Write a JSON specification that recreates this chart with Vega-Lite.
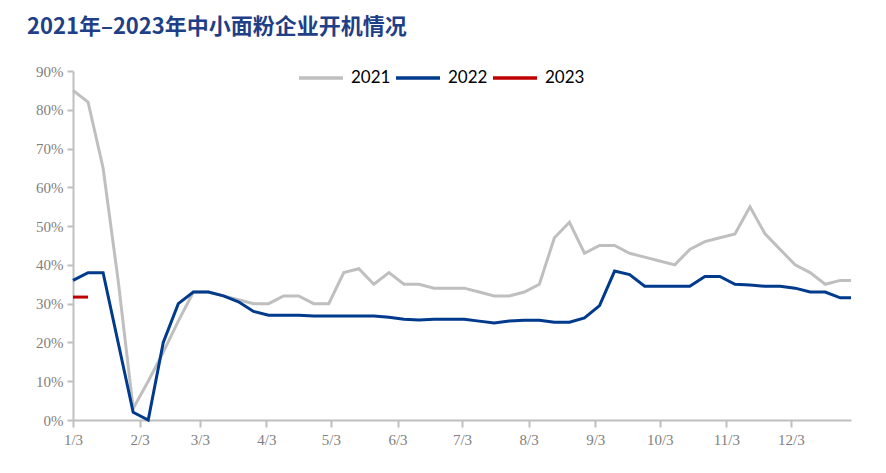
{
  "$schema": "https://vega.github.io/schema/vega-lite/v6.json",
  "width": 778,
  "height": 349,
  "autosize": {"type": "none"},
  "padding": {"left": 73, "top": 71, "right": 35, "bottom": 53},
  "background": "white",
  "title": {
    "text": "2021年–2023年中小面粉企业开机情况",
    "anchor": "start",
    "frame": "group",
    "dx": -46,
    "offset": 15,
    "font": "Noto Sans CJK SC",
    "fontSize": 22,
    "fontWeight": "bold",
    "color": "#1F3F86"
  },
  "config": {
    "view": {"stroke": null},
    "axis": {
      "domainColor": "#BFBFBF",
      "domainWidth": 2,
      "tickColor": "#BFBFBF",
      "tickWidth": 2,
      "grid": false,
      "labelFont": "Liberation Serif, DejaVu Serif, serif",
      "labelFontSize": 15,
      "labelColor": "#7F7F7F",
      "title": null
    }
  },
  "datasets": {
    "rates": [
      {"date": "2022-01-03", "year": "2021", "rate": 85},
      {"date": "2022-01-10", "year": "2021", "rate": 82},
      {"date": "2022-01-17", "year": "2021", "rate": 65},
      {"date": "2022-01-24", "year": "2021", "rate": 36},
      {"date": "2022-01-31", "year": "2021", "rate": 3},
      {"date": "2022-02-07", "year": "2021", "rate": 10},
      {"date": "2022-02-14", "year": "2021", "rate": 17.5},
      {"date": "2022-02-21", "year": "2021", "rate": 25.5},
      {"date": "2022-02-28", "year": "2021", "rate": 33},
      {"date": "2022-03-07", "year": "2021", "rate": 33},
      {"date": "2022-03-14", "year": "2021", "rate": 32},
      {"date": "2022-03-21", "year": "2021", "rate": 31},
      {"date": "2022-03-28", "year": "2021", "rate": 30},
      {"date": "2022-04-04", "year": "2021", "rate": 30},
      {"date": "2022-04-11", "year": "2021", "rate": 32},
      {"date": "2022-04-18", "year": "2021", "rate": 32},
      {"date": "2022-04-25", "year": "2021", "rate": 30},
      {"date": "2022-05-02", "year": "2021", "rate": 30},
      {"date": "2022-05-09", "year": "2021", "rate": 38},
      {"date": "2022-05-16", "year": "2021", "rate": 39},
      {"date": "2022-05-23", "year": "2021", "rate": 35},
      {"date": "2022-05-30", "year": "2021", "rate": 38},
      {"date": "2022-06-06", "year": "2021", "rate": 35},
      {"date": "2022-06-13", "year": "2021", "rate": 35},
      {"date": "2022-06-20", "year": "2021", "rate": 34},
      {"date": "2022-06-27", "year": "2021", "rate": 34},
      {"date": "2022-07-04", "year": "2021", "rate": 34},
      {"date": "2022-07-11", "year": "2021", "rate": 33},
      {"date": "2022-07-18", "year": "2021", "rate": 32},
      {"date": "2022-07-25", "year": "2021", "rate": 32},
      {"date": "2022-08-01", "year": "2021", "rate": 33},
      {"date": "2022-08-08", "year": "2021", "rate": 35},
      {"date": "2022-08-15", "year": "2021", "rate": 47},
      {"date": "2022-08-22", "year": "2021", "rate": 51},
      {"date": "2022-08-29", "year": "2021", "rate": 43},
      {"date": "2022-09-05", "year": "2021", "rate": 45},
      {"date": "2022-09-12", "year": "2021", "rate": 45},
      {"date": "2022-09-19", "year": "2021", "rate": 43},
      {"date": "2022-09-26", "year": "2021", "rate": 42},
      {"date": "2022-10-03", "year": "2021", "rate": 41},
      {"date": "2022-10-10", "year": "2021", "rate": 40},
      {"date": "2022-10-17", "year": "2021", "rate": 44},
      {"date": "2022-10-24", "year": "2021", "rate": 46},
      {"date": "2022-10-31", "year": "2021", "rate": 47},
      {"date": "2022-11-07", "year": "2021", "rate": 48},
      {"date": "2022-11-14", "year": "2021", "rate": 55},
      {"date": "2022-11-21", "year": "2021", "rate": 48},
      {"date": "2022-11-28", "year": "2021", "rate": 44},
      {"date": "2022-12-05", "year": "2021", "rate": 40},
      {"date": "2022-12-12", "year": "2021", "rate": 38},
      {"date": "2022-12-19", "year": "2021", "rate": 35},
      {"date": "2022-12-26", "year": "2021", "rate": 36},
      {"date": "2022-12-31", "year": "2021", "rate": 36},
      {"date": "2022-01-03", "year": "2022", "rate": 36},
      {"date": "2022-01-10", "year": "2022", "rate": 38},
      {"date": "2022-01-17", "year": "2022", "rate": 38},
      {"date": "2022-01-24", "year": "2022", "rate": 20},
      {"date": "2022-01-31", "year": "2022", "rate": 2},
      {"date": "2022-02-07", "year": "2022", "rate": 0},
      {"date": "2022-02-14", "year": "2022", "rate": 20},
      {"date": "2022-02-21", "year": "2022", "rate": 30},
      {"date": "2022-02-28", "year": "2022", "rate": 33},
      {"date": "2022-03-07", "year": "2022", "rate": 33},
      {"date": "2022-03-14", "year": "2022", "rate": 32},
      {"date": "2022-03-21", "year": "2022", "rate": 30.5},
      {"date": "2022-03-28", "year": "2022", "rate": 28},
      {"date": "2022-04-04", "year": "2022", "rate": 27},
      {"date": "2022-04-11", "year": "2022", "rate": 27},
      {"date": "2022-04-18", "year": "2022", "rate": 27},
      {"date": "2022-04-25", "year": "2022", "rate": 26.8},
      {"date": "2022-05-02", "year": "2022", "rate": 26.8},
      {"date": "2022-05-09", "year": "2022", "rate": 26.8},
      {"date": "2022-05-16", "year": "2022", "rate": 26.8},
      {"date": "2022-05-23", "year": "2022", "rate": 26.8},
      {"date": "2022-05-30", "year": "2022", "rate": 26.5},
      {"date": "2022-06-06", "year": "2022", "rate": 26},
      {"date": "2022-06-13", "year": "2022", "rate": 25.8},
      {"date": "2022-06-20", "year": "2022", "rate": 26},
      {"date": "2022-06-27", "year": "2022", "rate": 26},
      {"date": "2022-07-04", "year": "2022", "rate": 26},
      {"date": "2022-07-11", "year": "2022", "rate": 25.5},
      {"date": "2022-07-18", "year": "2022", "rate": 25},
      {"date": "2022-07-25", "year": "2022", "rate": 25.5},
      {"date": "2022-08-01", "year": "2022", "rate": 25.7},
      {"date": "2022-08-08", "year": "2022", "rate": 25.7},
      {"date": "2022-08-15", "year": "2022", "rate": 25.2},
      {"date": "2022-08-22", "year": "2022", "rate": 25.2},
      {"date": "2022-08-29", "year": "2022", "rate": 26.3},
      {"date": "2022-09-05", "year": "2022", "rate": 29.5},
      {"date": "2022-09-12", "year": "2022", "rate": 38.4},
      {"date": "2022-09-19", "year": "2022", "rate": 37.5},
      {"date": "2022-09-26", "year": "2022", "rate": 34.5},
      {"date": "2022-10-03", "year": "2022", "rate": 34.5},
      {"date": "2022-10-10", "year": "2022", "rate": 34.5},
      {"date": "2022-10-17", "year": "2022", "rate": 34.5},
      {"date": "2022-10-24", "year": "2022", "rate": 37},
      {"date": "2022-10-31", "year": "2022", "rate": 37},
      {"date": "2022-11-07", "year": "2022", "rate": 35},
      {"date": "2022-11-14", "year": "2022", "rate": 34.8},
      {"date": "2022-11-21", "year": "2022", "rate": 34.5},
      {"date": "2022-11-28", "year": "2022", "rate": 34.5},
      {"date": "2022-12-05", "year": "2022", "rate": 34},
      {"date": "2022-12-12", "year": "2022", "rate": 33},
      {"date": "2022-12-19", "year": "2022", "rate": 33},
      {"date": "2022-12-26", "year": "2022", "rate": 31.5},
      {"date": "2022-12-31", "year": "2022", "rate": 31.5},
      {"date": "2022-01-03", "year": "2023", "rate": 31.7},
      {"date": "2022-01-10", "year": "2023", "rate": 31.7}
    ]
  },
  "data": {"name": "rates"},
  "mark": {"type": "line", "strokeWidth": 3, "interpolate": "linear"},
  "encoding": {
    "x": {
      "field": "date",
      "type": "temporal",
      "scale": {
        "type": "utc",
        "domain": [
          {"year": 2022, "month": 1, "date": 3, "utc": true},
          {"year": 2022, "month": 12, "date": 31, "utc": true}
        ]
      },
      "axis": {
        "values": [
          {"year": 2022, "month": 1, "date": 3, "utc": true},
          {"year": 2022, "month": 2, "date": 3, "utc": true},
          {"year": 2022, "month": 3, "date": 3, "utc": true},
          {"year": 2022, "month": 4, "date": 3, "utc": true},
          {"year": 2022, "month": 5, "date": 3, "utc": true},
          {"year": 2022, "month": 6, "date": 3, "utc": true},
          {"year": 2022, "month": 7, "date": 3, "utc": true},
          {"year": 2022, "month": 8, "date": 3, "utc": true},
          {"year": 2022, "month": 9, "date": 3, "utc": true},
          {"year": 2022, "month": 10, "date": 3, "utc": true},
          {"year": 2022, "month": 11, "date": 3, "utc": true},
          {"year": 2022, "month": 12, "date": 3, "utc": true}
        ],
        "labelExpr": "utcFormat(datum.value, '%-m/%-d')",
        "labelFont": "Liberation Serif, DejaVu Serif, serif",
        "tickSize": 7,
        "labelPadding": 5,
        "labelFlush": false,
        "labelOverlap": false
      }
    },
    "y": {
      "field": "rate",
      "type": "quantitative",
      "scale": {"domain": [0, 90], "nice": false},
      "axis": {
        "values": [0, 10, 20, 30, 40, 50, 60, 70, 80, 90],
        "labelExpr": "datum.value + '%'",
        "labelFont": "Liberation Serif, DejaVu Serif, serif",
        "tickSize": 6,
        "labelPadding": 4
      }
    },
    "color": {
      "field": "year",
      "type": "nominal",
      "scale": {"domain": ["2021", "2022", "2023"], "range": ["#BFBFBF", "#003A8C", "#C00000"]},
      "legend": {
        "title": null,
        "orient": "none",
        "legendX": 224,
        "legendY": -17,
        "direction": "horizontal",
        "symbolType": "stroke",
        "symbolStrokeWidth": 3.5,
        "symbolSize": 1936,
        "labelFont": "Lato",
        "labelFontSize": 17,
        "labelColor": "#000000",
        "labelOffset": 6,
        "columnPadding": -2,
        "padding": 0
      }
    }
  }
}
